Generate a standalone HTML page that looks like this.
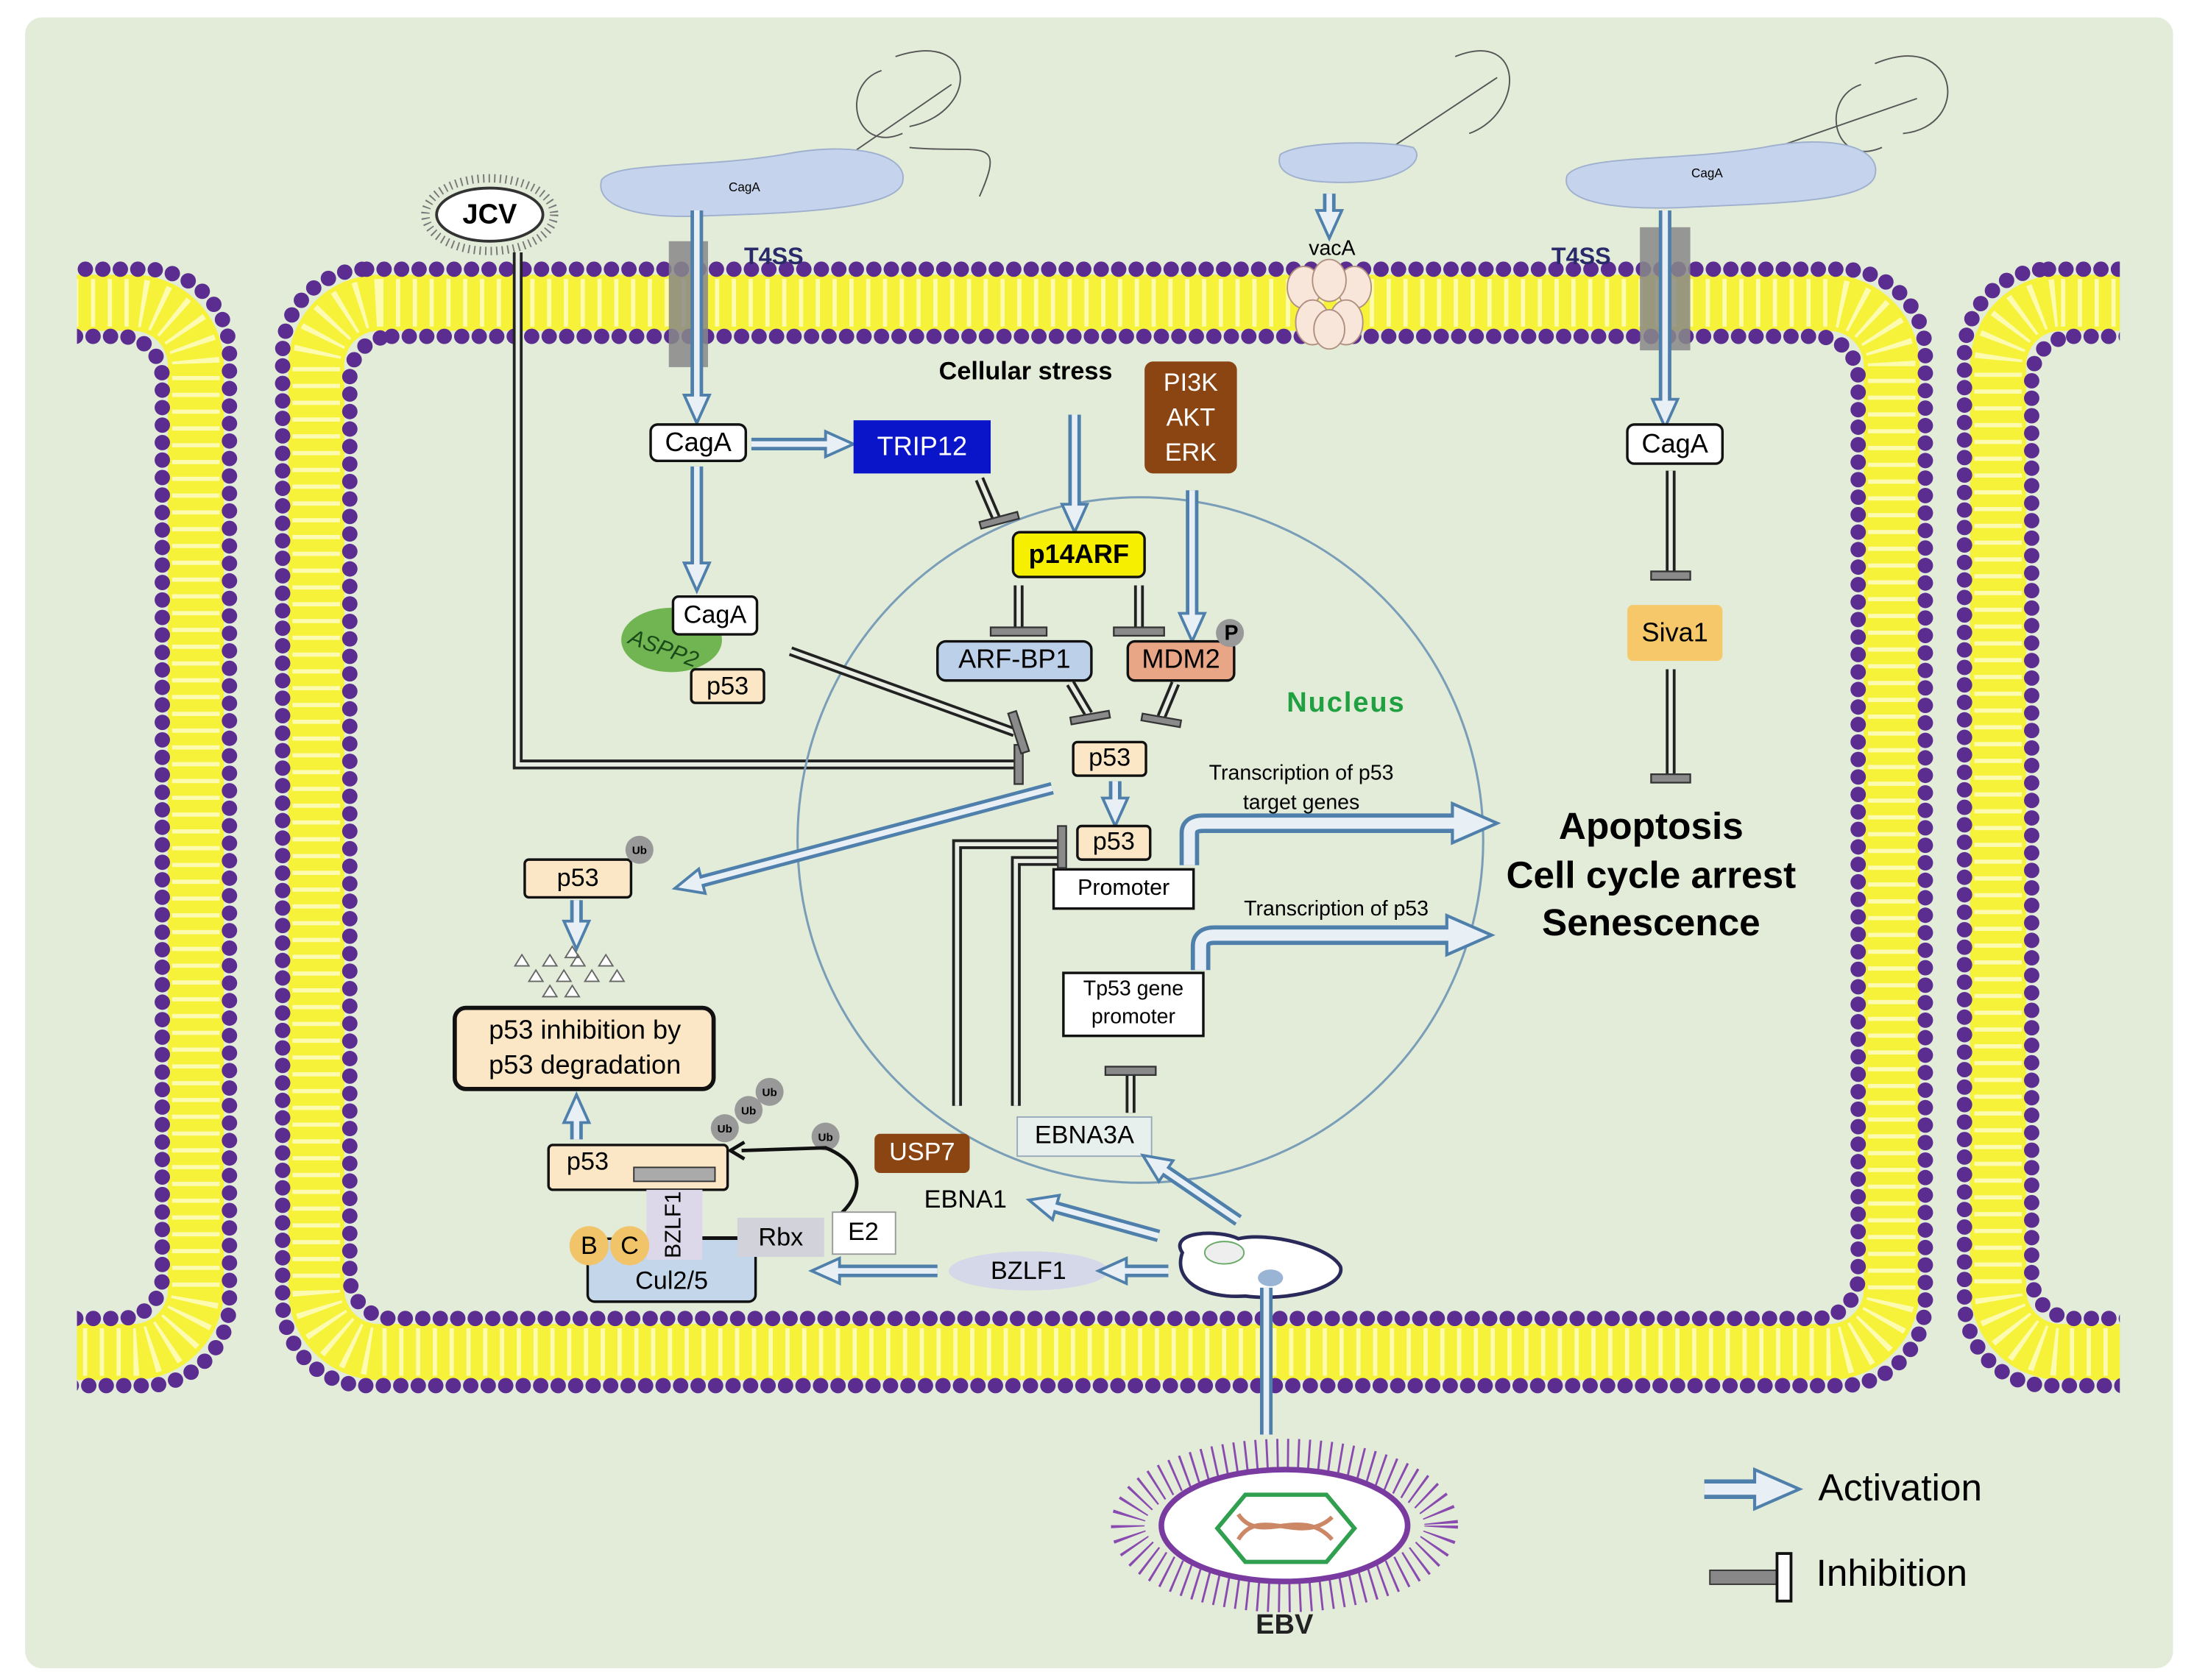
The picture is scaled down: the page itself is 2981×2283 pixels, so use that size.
<!DOCTYPE html>
<html><head><meta charset="utf-8"><style>
html,body{margin:0;padding:0;background:#fff;}
svg{display:block;font-family:"Liberation Sans",Arial,sans-serif;}
.a1{stroke:#4f7fab;stroke-width:9;fill:none}
.a2{stroke:#e8f0f6;stroke-width:4;fill:none}
.i1{stroke:#222;stroke-width:7;fill:none}
.i2{stroke:#e8eee4;stroke-width:3;fill:none}
.bar{fill:#8a8a8a;stroke:#333;stroke-width:1.2}
.box{stroke:#111;stroke-width:1.8}
text{dominant-baseline:middle;text-anchor:middle}
</style></head><body>
<svg width="2981" height="2283" viewBox="0 0 1568 1200" xmlns="http://www.w3.org/2000/svg">
<defs>
<marker id="ah" markerUnits="userSpaceOnUse" markerWidth="26" markerHeight="26" refX="12" refY="12" orient="auto">
<path d="M2,3 L22,12 L2,21 Z" fill="#e8f0f6" stroke="#4f7fab" stroke-width="2"/>
</marker>
<marker id="ahb" markerUnits="userSpaceOnUse" markerWidth="40" markerHeight="40" refX="16" refY="20" orient="auto">
<path d="M2,6 L34,20 L2,34 Z" fill="#e8f0f6" stroke="#4f7fab" stroke-width="2.2"/>
</marker>
<clipPath id="cl"><rect x="55" y="150" width="1460" height="860"/></clipPath>
</defs>
<rect x="0" y="0" width="1568" height="1200" fill="#fff"/>
<rect x="18" y="12" width="1535" height="1180" rx="12" fill="#e2ecd9"/>

<g clip-path="url(#cl)">
<rect x="226" y="216" width="1126" height="750" rx="45" fill="none" stroke="#f6f23a" stroke-width="40"/>
<rect x="226" y="216" width="1126" height="750" rx="45" fill="none" stroke="#fdfbb0" stroke-width="34" stroke-dasharray="3 9"/>
<rect x="202" y="192" width="1174" height="798" rx="60" fill="none" stroke="#5b2d91" stroke-width="11" stroke-linecap="round" stroke-dasharray="0 12.5"/>
<rect x="250" y="240" width="1078" height="702" rx="30" fill="none" stroke="#5b2d91" stroke-width="11" stroke-linecap="round" stroke-dasharray="0 12.5"/>
<rect x="-400" y="216" width="540" height="750" rx="45" fill="none" stroke="#f6f23a" stroke-width="40"/>
<rect x="-400" y="216" width="540" height="750" rx="45" fill="none" stroke="#fdfbb0" stroke-width="34" stroke-dasharray="3 9"/>
<rect x="-424" y="192" width="588" height="798" rx="60" fill="none" stroke="#5b2d91" stroke-width="11" stroke-linecap="round" stroke-dasharray="0 12.5"/>
<rect x="-376" y="240" width="492" height="702" rx="30" fill="none" stroke="#5b2d91" stroke-width="11" stroke-linecap="round" stroke-dasharray="0 12.5"/>
<rect x="1428" y="216" width="540" height="750" rx="45" fill="none" stroke="#f6f23a" stroke-width="40"/>
<rect x="1428" y="216" width="540" height="750" rx="45" fill="none" stroke="#fdfbb0" stroke-width="34" stroke-dasharray="3 9"/>
<rect x="1404" y="192" width="588" height="798" rx="60" fill="none" stroke="#5b2d91" stroke-width="11" stroke-linecap="round" stroke-dasharray="0 12.5"/>
<rect x="1452" y="240" width="492" height="702" rx="30" fill="none" stroke="#5b2d91" stroke-width="11" stroke-linecap="round" stroke-dasharray="0 12.5"/>
</g>

<!-- JCV -->
<ellipse cx="350" cy="153" rx="46" ry="26" fill="none" stroke="#777" stroke-width="6" stroke-dasharray="1 3"/>
<ellipse cx="350" cy="153" rx="38" ry="19" fill="#fff" stroke="#333" stroke-width="2"/>
<text x="350" y="154" font-size="20" font-weight="bold">JCV</text>
<path class="i1" d="M370,180 L370,546 L725,546"/><path class="i2" d="M370,180 L370,546 L725,546"/>
<rect class="bar" x="725" y="532" width="6" height="28"/>

<path d="M640,40 C700,20 700,80 650,90 M630,50 C600,60 610,110 645,95 M650,105 C700,110 720,95 700,140 M600,115 L680,60" stroke="#555" fill="none" stroke-width="1"/>
<path d="M430,128 C440,115 500,120 560,110 C610,100 650,110 645,130 C640,150 560,152 500,154 C450,156 425,145 430,128Z" fill="#c5d3ec" stroke="#9fb0cf"/>
<text x="532" y="134" font-size="9">CagA</text>
<rect x="478" y="172" width="28" height="90" fill="#888" opacity="0.85"/>
<text x="553" y="184" font-size="17" font-weight="bold" fill="#2a2a6a">T4SS</text>
<line class="a1" x1="498" y1="150" x2="498" y2="292" marker-end="url(#ah)"/><line class="a2" x1="498" y1="150" x2="498" y2="292"/>

<path d="M1340,45 C1400,20 1410,90 1360,95 M1330,60 C1300,70 1310,120 1345,105 M1240,115 L1370,70" stroke="#555" fill="none" stroke-width="1"/>
<path d="M1120,125 C1130,110 1200,115 1260,105 C1310,95 1345,105 1340,125 C1335,145 1260,145 1200,148 C1140,150 1115,140 1120,125Z" fill="#c5d3ec" stroke="#9fb0cf"/>
<text x="1220" y="124" font-size="9">CagA</text>
<rect x="1172" y="162" width="36" height="88" fill="#888" opacity="0.85"/>
<text x="1130" y="184" font-size="17" font-weight="bold" fill="#2a2a6a">T4SS</text>
<line class="a1" x1="1190" y1="150" x2="1190" y2="295" marker-end="url(#ah)"/><line class="a2" x1="1190" y1="150" x2="1190" y2="295"/>
<rect class="box" x="1163" y="303" width="68" height="28" rx="5" fill="#fff"/><text x="1197" y="318" font-size="19">CagA</text>
<line class="i1" x1="1194" y1="336" x2="1194" y2="408"/><line class="i2" x1="1194" y1="336" x2="1194" y2="408"/>
<rect class="bar" x="1180" y="408" width="28" height="6"/>
<rect x="1163" y="432" width="68" height="40" rx="4" fill="#f6c86a"/><text x="1197" y="453" font-size="19">Siva1</text>
<line class="i1" x1="1194" y1="478" x2="1194" y2="553"/><line class="i2" x1="1194" y1="478" x2="1194" y2="553"/>
<rect class="bar" x="1180" y="553" width="28" height="6"/>

<path d="M1040,40 C1090,20 1090,80 1050,95 M990,108 L1070,55" stroke="#555" fill="none" stroke-width="1"/>
<path d="M915,110 C930,100 990,100 1010,105 C1020,115 1000,130 960,130 C930,130 910,125 915,110Z" fill="#c5d3ec" stroke="#9fb0cf"/>
<line class="a1" x1="950" y1="138" x2="950" y2="160" marker-end="url(#ah)"/><line class="a2" x1="950" y1="138" x2="950" y2="160"/>
<text x="952" y="178" font-size="15">vacA</text>
<g fill="#f8e6da" stroke="#b09080" stroke-width="1">
<ellipse cx="932" cy="205" rx="12" ry="15"/><ellipse cx="968" cy="205" rx="12" ry="15"/><ellipse cx="950" cy="200" rx="12" ry="15"/>
<ellipse cx="938" cy="230" rx="12" ry="16"/><ellipse cx="962" cy="230" rx="12" ry="16"/><ellipse cx="950" cy="235" rx="11" ry="14"/></g>

<circle cx="815" cy="600" r="245" fill="none" stroke="#7a9db8" stroke-width="1.6"/>
<text x="962" y="503" font-size="20" font-weight="bold" fill="#20a040" letter-spacing="1">Nucleus</text>

<rect class="box" x="465" y="303" width="68" height="26" rx="5" fill="#fff"/><text x="499" y="317" font-size="19">CagA</text>
<line class="a1" x1="537" y1="317" x2="600" y2="317" marker-end="url(#ah)"/><line class="a2" x1="537" y1="317" x2="600" y2="317"/>
<rect x="610" y="300" width="98" height="38" fill="#0a14c8"/><text x="659" y="320" font-size="19" fill="#fff">TRIP12</text>
<path class="i1" d="M700,342 L712,370"/><path class="i2" d="M700,342 L712,370"/>
<rect class="bar" x="700" y="369" width="28" height="5" transform="rotate(-15 714 371)"/>
<line class="a1" x1="498" y1="333" x2="498" y2="412" marker-end="url(#ah)"/><line class="a2" x1="498" y1="333" x2="498" y2="412"/>
<ellipse cx="480" cy="457" rx="36" ry="23" fill="#71b552"/>
<text x="474" y="464" font-size="16" fill="#1a4a1a" font-style="italic" transform="rotate(20 474 464)">ASPP2</text>
<rect class="box" x="481" y="426" width="60" height="27" rx="4" fill="#fff"/><text x="511" y="440" font-size="18">CagA</text>
<rect class="box" x="494" y="478" width="52" height="24" rx="3" fill="#fbe6c6"/><text x="520" y="491" font-size="18">p53</text>
<path class="i1" d="M565,465 L725,523"/><path class="i2" d="M565,465 L725,523"/>
<rect class="bar" x="725" y="508" width="6" height="30" transform="rotate(-18 728 523)"/>

<text x="733" y="266" font-size="18" font-weight="bold">Cellular stress</text>
<line class="a1" x1="768" y1="296" x2="768" y2="370" marker-end="url(#ah)"/><line class="a2" x1="768" y1="296" x2="768" y2="370"/>
<rect x="818" y="258" width="66" height="80" rx="6" fill="#8b4513"/>
<text x="851" y="274" font-size="18" fill="#fff">PI3K</text><text x="851" y="299" font-size="18" fill="#fff">AKT</text><text x="851" y="324" font-size="18" fill="#fff">ERK</text>
<line class="a1" x1="852" y1="350" x2="852" y2="448" marker-end="url(#ah)"/><line class="a2" x1="852" y1="350" x2="852" y2="448"/>
<rect class="box" x="724" y="380" width="94" height="32" rx="5" fill="#f6f000"/><text x="771" y="397" font-size="19" font-weight="bold">p14ARF</text>
<line class="i1" x1="728" y1="418" x2="728" y2="448"/><line class="i2" x1="728" y1="418" x2="728" y2="448"/>
<rect class="bar" x="708" y="448" width="40" height="6"/>
<line class="i1" x1="814" y1="418" x2="814" y2="448"/><line class="i2" x1="814" y1="418" x2="814" y2="448"/>
<rect class="bar" x="796" y="448" width="36" height="6"/>
<rect class="box" x="670" y="458" width="110" height="28" rx="6" fill="#bcd0ea"/><text x="725" y="472" font-size="19">ARF-BP1</text>
<rect class="box" x="806" y="458" width="76" height="28" rx="5" fill="#e8a686"/><text x="844" y="472" font-size="19">MDM2</text>
<circle cx="879" cy="452" r="10" fill="#999"/><text x="880" y="453" font-size="15" font-weight="bold">P</text>
<path class="i1" d="M765,488 L778,510"/><path class="i2" d="M765,488 L778,510"/>
<rect class="bar" x="765" y="510" width="28" height="5" transform="rotate(-10 779 512)"/>
<path class="i1" d="M840,488 L830,512"/><path class="i2" d="M840,488 L830,512"/>
<rect class="bar" x="816" y="512" width="28" height="5" transform="rotate(10 830 514)"/>

<rect class="box" x="767" y="530" width="52" height="24" rx="3" fill="#fbe6c6"/><text x="793" y="542" font-size="18">p53</text>
<line class="a1" x1="797" y1="558" x2="797" y2="580" marker-end="url(#ah)"/><line class="a2" x1="797" y1="558" x2="797" y2="580"/>
<rect class="box" x="770" y="590" width="52" height="24" rx="3" fill="#fbe6c6"/><text x="796" y="602" font-size="18">p53</text>
<rect class="box" x="753" y="621" width="100" height="28" fill="#fff"/><text x="803" y="635" font-size="16">Promoter</text>
<path class="a1" d="M850,618 L850,595 Q850,588 860,588 L1052,588" marker-end="url(#ahb)" style="stroke-width:14"/>
<path d="M850,618 L850,595 Q850,588 860,588 L1052,588" fill="none" stroke="#e8f0f6" stroke-width="8"/>
<text x="930" y="553" font-size="15">Transcription of p53</text><text x="930" y="574" font-size="15">target genes</text>
<rect class="box" x="760" y="695" width="100" height="45" fill="#fff"/><text x="810" y="707" font-size="15">Tp53 gene</text><text x="810" y="727" font-size="15">promoter</text>
<path d="M858,693 L858,676 Q858,668 868,668 L1048,668" fill="none" stroke="#4f7fab" stroke-width="14" marker-end="url(#ahb)"/>
<path d="M858,693 L858,676 Q858,668 868,668 L1048,668" fill="none" stroke="#e8f0f6" stroke-width="8"/>
<text x="955" y="650" font-size="15">Transcription of p53</text>
<line class="i1" x1="808" y1="795" x2="808" y2="768"/><line class="i2" x1="808" y1="795" x2="808" y2="768"/>
<rect class="bar" x="790" y="762" width="36" height="6"/>
<rect x="727" y="798" width="96" height="28" fill="#e8f0ee" stroke="#9ab" stroke-width="1"/><text x="775" y="812" font-size="18">EBNA3A</text>
<path class="i1" d="M684,790 L684,603 L757,603"/><path class="i2" d="M684,790 L684,603 L757,603"/>
<path class="i1" d="M726,790 L726,615 L757,615"/><path class="i2" d="M726,790 L726,615 L757,615"/>
<rect class="bar" x="756" y="590" width="6" height="30"/>

<text x="1180" y="592" font-size="27" font-weight="bold">Apoptosis</text>
<text x="1180" y="627" font-size="27" font-weight="bold">Cell cycle arrest</text>
<text x="1180" y="661" font-size="27" font-weight="bold">Senescence</text>

<line class="a1" x1="752" y1="563" x2="492" y2="632" marker-end="url(#ah)"/><line class="a2" x1="752" y1="563" x2="492" y2="632"/>
<rect class="box" x="375" y="614" width="76" height="27" rx="3" fill="#fbe6c6"/><text x="413" y="628" font-size="18">p53</text>
<circle cx="457" cy="607" r="10" fill="#999"/><text x="457" y="608" font-size="8" font-weight="bold">Ub</text>
<line class="a1" x1="412" y1="643" x2="412" y2="668" marker-end="url(#ah)"/><line class="a2" x1="412" y1="643" x2="412" y2="668"/>
<g fill="#fff" stroke="#666" stroke-width="1">
<path d="M368,690 l5,-8 l5,8z M388,690 l5,-8 l5,8z M408,690 l5,-8 l5,8z M428,690 l5,-8 l5,8z M378,701 l5,-8 l5,8z M398,701 l5,-8 l5,8z M418,701 l5,-8 l5,8z M436,701 l5,-8 l5,8z M388,712 l5,-8 l5,8z M404,712 l5,-8 l5,8z M404,684 l5,-8 l5,8z"/></g>
<rect x="325" y="720" width="185" height="58" rx="8" fill="#fbe6c6" stroke="#111" stroke-width="3"/>
<text x="418" y="737" font-size="19">p53 inhibition by</text><text x="418" y="762" font-size="19">p53 degradation</text>
<line class="a1" x1="412" y1="814" x2="412" y2="792" marker-end="url(#ah)"/><line class="a2" x1="412" y1="814" x2="412" y2="792"/>
<rect class="box" x="392" y="818" width="128" height="32" rx="3" fill="#fbe6c6"/><text x="420" y="831" font-size="18">p53</text>
<rect x="453" y="834" width="58" height="10" fill="#aaa" stroke="#333" stroke-width="1"/>
<g fill="#999"><circle cx="518" cy="806" r="10"/><circle cx="535" cy="793" r="10"/><circle cx="550" cy="780" r="10"/><circle cx="590" cy="812" r="10"/></g>
<g font-size="8" font-weight="bold"><text x="518" y="807">Ub</text><text x="535" y="794">Ub</text><text x="550" y="781">Ub</text><text x="590" y="813">Ub</text></g>
<path d="M600,868 C620,850 615,830 590,820 L530,822" fill="none" stroke="#111" stroke-width="2.5"/>
<path d="M532,816 L522,822 L532,828" fill="none" stroke="#111" stroke-width="2.5"/>
<rect x="420" y="885" width="120" height="45" rx="5" fill="#c3d6ea" stroke="#111" stroke-width="1.8"/><text x="480" y="916" font-size="18">Cul2/5</text>
<rect x="462" y="850" width="40" height="50" fill="#dcd8ea"/>
<text x="482" y="875" font-size="16" transform="rotate(-90 482 875)">BZLF1</text>
<circle cx="421" cy="890" r="14" fill="#f2c46a"/><circle cx="450" cy="890" r="14" fill="#f2c46a"/>
<text x="421" y="891" font-size="18">B</text><text x="450" y="891" font-size="18">C</text>
<line x1="502" y1="884" x2="527" y2="884" stroke="#111" stroke-width="1.5"/>
<rect x="527" y="870" width="62" height="28" fill="#d2d2da"/><text x="558" y="885" font-size="18">Rbx</text>
<rect x="595" y="866" width="45" height="30" fill="#fff" stroke="#999" stroke-width="1"/><text x="617" y="881" font-size="18">E2</text>
<rect x="625" y="810" width="68" height="28" rx="4" fill="#8b4513"/><text x="659" y="824" font-size="18" fill="#fff">USP7</text>
<text x="690" y="858" font-size="18">EBNA1</text>
<line class="a1" x1="828" y1="883" x2="745" y2="860" marker-end="url(#ah)"/><line class="a2" x1="828" y1="883" x2="745" y2="860"/>
<line class="a1" x1="885" y1="872" x2="825" y2="831" marker-end="url(#ah)"/><line class="a2" x1="885" y1="872" x2="825" y2="831"/>
<ellipse cx="735" cy="908" rx="57" ry="14" fill="#d4d8e8"/><text x="735" y="909" font-size="18">BZLF1</text>
<line class="a1" x1="835" y1="908" x2="795" y2="908" marker-end="url(#ah)"/><line class="a2" x1="835" y1="908" x2="795" y2="908"/>
<line class="a1" x1="670" y1="908" x2="590" y2="908" marker-end="url(#ah)"/><line class="a2" x1="670" y1="908" x2="590" y2="908"/>

<path d="M845,895 C835,880 870,878 885,885 C905,880 950,890 958,905 C962,920 920,930 890,926 C860,928 838,915 845,895Z" fill="#fff" stroke="#2a2a5a" stroke-width="2.5"/>
<ellipse cx="875" cy="895" rx="14" ry="8" fill="#eee" stroke="#6a6" stroke-width="1"/>
<ellipse cx="908" cy="913" rx="9" ry="6" fill="#9ab4d6"/>
<line class="a1" x1="905" y1="1025" x2="905" y2="920"/><line class="a2" x1="905" y1="1025" x2="905" y2="920"/>

<!-- EBV -->
<ellipse cx="918" cy="1090" rx="112" ry="50" fill="none" stroke="#8a4bb0" stroke-width="24" stroke-dasharray="1.5 6"/>
<ellipse cx="918" cy="1090" rx="88" ry="40" fill="#fff" stroke="#7a3ba0" stroke-width="4"/>
<path d="M870,1092 L890,1068 L948,1068 L968,1092 L948,1116 L890,1116Z" fill="#fff" stroke="#30a050" stroke-width="3"/>
<path d="M885,1082 C900,1105 930,1075 952,1100 M885,1100 C900,1075 930,1105 952,1084" fill="none" stroke="#c86" stroke-width="3"/>
<text x="918" y="1162" font-size="20" font-weight="bold" fill="#222">EBV</text>

<line class="a1" x1="1218" y1="1064" x2="1268" y2="1064" marker-end="url(#ahb)" style="stroke-width:14"/>
<line x1="1218" y1="1064" x2="1268" y2="1064" stroke="#e8f0f6" stroke-width="8"/>
<text x="1358" y="1065" font-size="27">Activation</text>
<rect x="1222" y="1122" width="48" height="10" fill="#888" stroke="#333"/>
<rect x="1270" y="1110" width="10" height="34" fill="#fff" stroke="#111" stroke-width="2"/>
<text x="1352" y="1126" font-size="27">Inhibition</text>
</svg>
</body></html>
